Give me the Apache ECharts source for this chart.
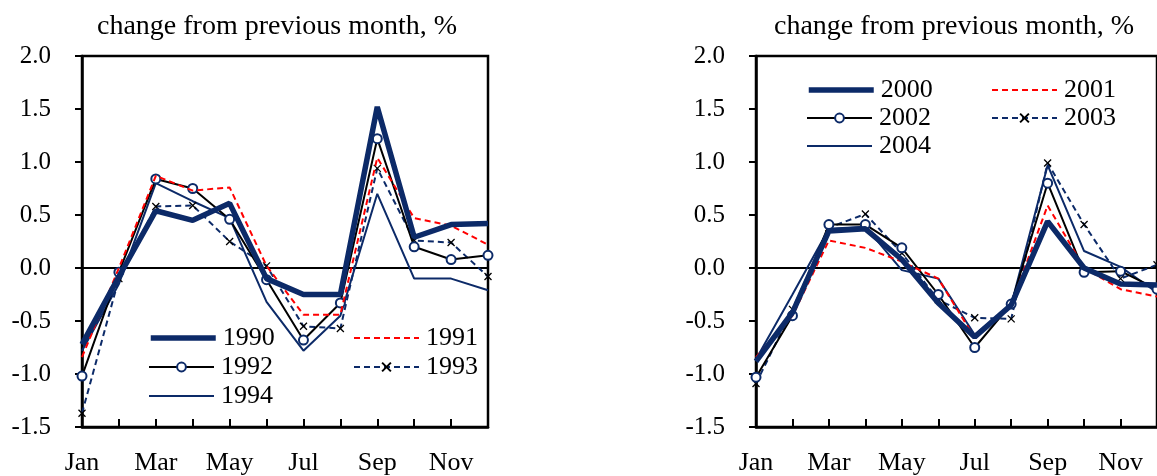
<!DOCTYPE html>
<html>
<head>
<meta charset="utf-8">
<script src="https://cdn.jsdelivr.net/npm/echarts@6/dist/echarts.min.js"></script>
<style>
  html, body { margin: 0; padding: 0; background: #fff; }
  #chart { width: 1157px; height: 476px; }
</style>
</head>
<body>
<div id="chart"></div>
<script>
  // months on the x axis
  var months = ['Jan', 'Feb', 'Mar', 'Apr', 'May', 'Jun', 'Jul', 'Aug', 'Sep', 'Oct', 'Nov', 'Dec'];

  // left panel, 1990s
  var y1990 = [-0.72, -0.08, 0.54, 0.45, 0.61, -0.10, -0.25, -0.25, 1.52, 0.29, 0.41, 0.42];
  var y1991 = [-0.84, 0.00, 0.87, 0.73, 0.76, 0.02, -0.44, -0.44, 1.04, 0.47, 0.40, 0.22];
  var y1992 = [-1.02, -0.04, 0.84, 0.75, 0.46, -0.11, -0.68, -0.33, 1.22, 0.20, 0.08, 0.12];
  var y1993 = [-1.37, -0.10, 0.58, 0.59, 0.25, 0.02, -0.55, -0.57, 0.94, 0.26, 0.24, -0.08];
  var y1994 = [-0.78, -0.15, 0.80, 0.63, 0.47, -0.32, -0.78, -0.45, 0.70, -0.10, -0.10, -0.21];

  // right panel, 2000s
  var y2000 = [-0.88, -0.42, 0.35, 0.37, 0.08, -0.33, -0.65, -0.35, 0.44, 0.00, -0.15, -0.16];
  var y2001 = [-0.84, -0.45, 0.26, 0.19, 0.06, -0.10, -0.66, -0.35, 0.59, 0.00, -0.20, -0.27];
  var y2002 = [-1.03, -0.45, 0.41, 0.41, 0.19, -0.25, -0.75, -0.34, 0.80, -0.04, -0.03, -0.20];
  var y2003 = [-1.09, -0.39, 0.38, 0.51, 0.14, -0.30, -0.47, -0.48, 0.99, 0.41, -0.10, 0.03];
  var y2004 = [-0.86, -0.25, 0.37, 0.39, -0.02, -0.10, -0.63, -0.35, 0.97, 0.16, 0.01, -0.23];

  var leftNames = ['1990', '1991', '1992', '1993', '1994'];
  var rightNames = ['2000', '2001', '2002', '2003', '2004'];
  var leftData = [y1990, y1991, y1992, y1993, y1994];
  var rightData = [y2000, y2001, y2002, y2003, y2004];

  var font = 'Liberation Serif';
  var navy = '#0c2a68';
  var crossPath = 'path://M0,0L10,10M10,0L0,10';

  // the 5 line styles, same order in both panels
  function lineLook(i) {
    if (i == 0) return { lineStyle: { color: navy, width: 5.5 }, symbol: 'none' };
    if (i == 1) return { lineStyle: { color: '#ff0000', width: 2, type: [6, 4] }, symbol: 'none' };
    if (i == 2) return {
      lineStyle: { color: '#000', width: 2 }, symbol: 'circle', symbolSize: 9,
      itemStyle: { color: '#fff', borderColor: navy, borderWidth: 2 }
    };
    if (i == 3) return {
      lineStyle: { color: navy, width: 2, type: [6, 4] }, symbol: crossPath, symbolSize: 7,
      itemStyle: { color: '#000', borderColor: '#000', borderWidth: 1.3 }
    };
    return { lineStyle: { color: navy, width: 2 }, symbol: 'none' };
  }

  function makeSeries(name, data, i, panel) {
    var look = lineLook(i);
    var s = {
      name: name,
      type: 'line',
      xAxisIndex: panel,
      yAxisIndex: panel,
      data: data,
      z: 10 - i,
      showSymbol: look.symbol != 'none',
      symbol: look.symbol,
      symbolSize: look.symbolSize || 4,
      lineStyle: look.lineStyle,
      itemStyle: look.itemStyle || { color: look.lineStyle.color },
      animation: false,
      silent: true
    };
    if (i == 0) {
      // zero line
      s.markLine = {
        silent: true, symbol: 'none', label: { show: false },
        lineStyle: { color: '#000', width: 2, type: 'solid' },
        data: [{ yAxis: 0 }]
      };
    }
    return s;
  }

  var series = [];
  for (var i = 0; i < 5; i++) series.push(makeSeries(leftNames[i], leftData[i], i, 0));
  for (var i = 0; i < 5; i++) series.push(makeSeries(rightNames[i], rightData[i], i, 1));

  // one legend per entry so they sit like the original boxes
  var leftSpots = [[148, 340], [353, 340], [148, 369], [353, 369], [148, 398]];
  var rightSpots = [[806, 92], [991, 92], [806, 120], [991, 120], [806, 148]];
  var legends = [];
  function addLegend(name, i, spot) {
    var look = lineLook(i);
    var lg = {
      data: [name],
      left: spot[0],
      top: spot[1] - 15,
      padding: 0,
      itemWidth: 65,
      itemHeight: 11,
      selectedMode: false,
      lineStyle: {
        color: look.lineStyle.color,
        width: look.lineStyle.width,
        type: look.lineStyle.type || 'solid'
      },
      textStyle: { fontFamily: font, fontSize: 26, color: '#000', padding: [0, 0, 0, 2] }
    };
    if (look.symbol == 'none') lg.itemStyle = { opacity: 0 };
    legends.push(lg);
  }
  for (var i = 0; i < 5; i++) addLegend(leftNames[i], i, leftSpots[i]);
  for (var i = 0; i < 5; i++) addLegend(rightNames[i], i, rightSpots[i]);

  function xAxisFor(idx) {
    return {
      type: 'category',
      gridIndex: idx,
      data: months,
      boundaryGap: false,
      axisLine: { onZero: false, lineStyle: { color: '#000', width: 2.5 } },
      axisTick: { inside: true, length: 8, interval: 0, lineStyle: { color: '#000', width: 2 } },
      axisLabel: { interval: 1, margin: 23, fontFamily: font, fontSize: 26, color: '#000' },
      splitLine: { show: false }
    };
  }
  function yAxisFor(idx) {
    return {
      type: 'value',
      gridIndex: idx,
      min: -1.5,
      max: 2.0,
      interval: 0.5,
      axisLine: { show: true, lineStyle: { color: '#000', width: 2.5 } },
      axisTick: { show: true, inside: false, length: 7, lineStyle: { color: '#000', width: 2 } },
      axisLabel: {
        margin: 31, fontFamily: font, fontSize: 25, color: '#000',
        formatter: function (v) { return v.toFixed(1); }
      },
      splitLine: { show: false }
    };
  }

  var myChart = echarts.init(document.getElementById('chart'), null, { renderer: 'canvas' });
  myChart.setOption({
    backgroundColor: '#fff',
    animation: false,
    title: [
      { text: 'change from previous month, %', left: 92, top: 8,
        textStyle: { fontFamily: font, fontSize: 28, fontWeight: 'normal', color: '#000' } },
      { text: 'change from previous month, %', left: 769, top: 8,
        textStyle: { fontFamily: font, fontSize: 28, fontWeight: 'normal', color: '#000' } }
    ],
    legend: legends,
    grid: [
      { left: 82, top: 56, width: 406, height: 371, show: true, borderColor: '#000', borderWidth: 2.5 },
      { left: 756, top: 56, width: 407, height: 371, show: true, borderColor: '#000', borderWidth: 2.5 }
    ],
    xAxis: [xAxisFor(0), xAxisFor(1)],
    yAxis: [yAxisFor(0), yAxisFor(1)],
    series: series
  });
</script>
</body>
</html>
